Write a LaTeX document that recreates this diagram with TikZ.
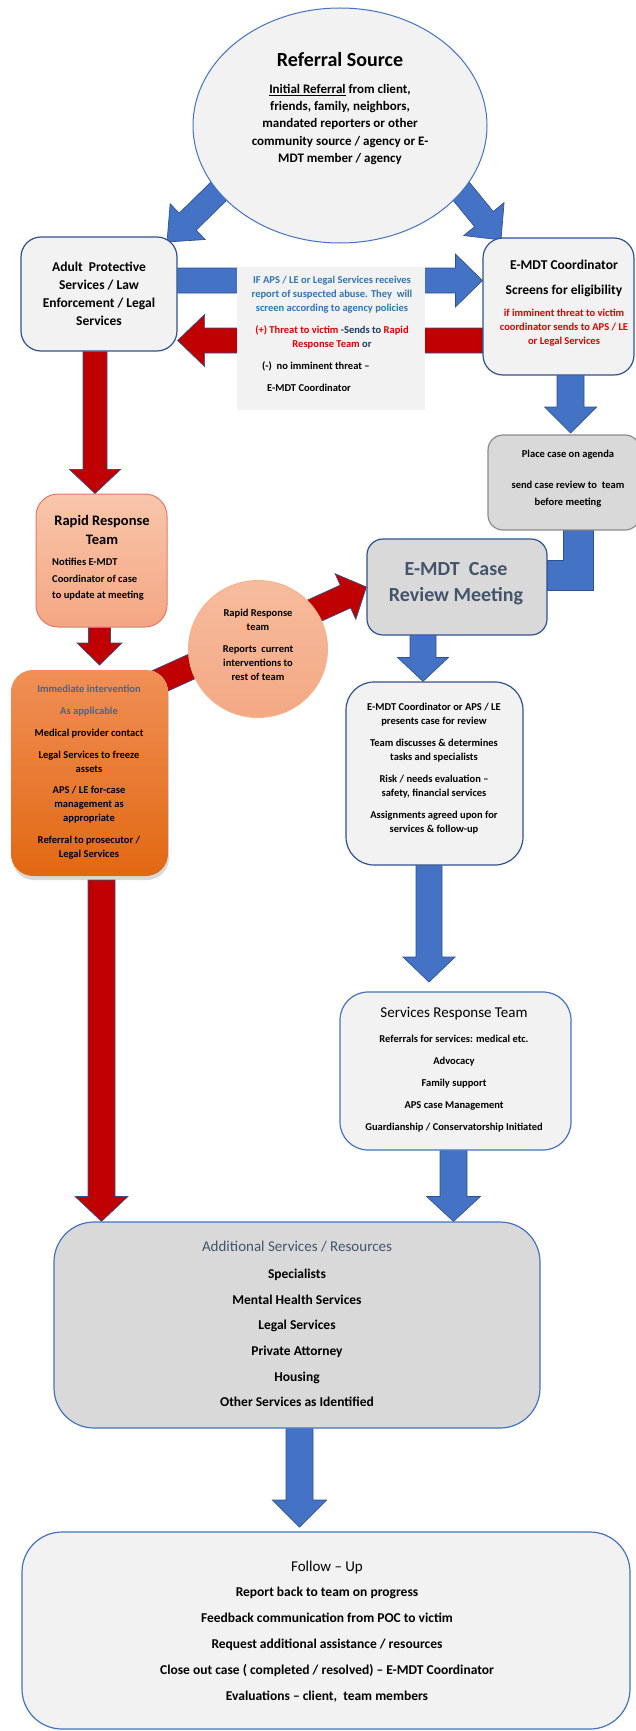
\documentclass[tikz,border=0pt]{standalone}
\usepackage{fontspec}
\setmainfont{Carlito}
\usetikzlibrary{calc,shapes.geometric,shadows}
\pgfdeclarelayer{bg}
\pgfsetlayers{bg,main}
\definecolor{ablue}{HTML}{4472C4}
\definecolor{aline}{HTML}{2F528F}
\definecolor{ared}{HTML}{C00000}
\definecolor{lgray}{HTML}{F2F2F2}
\definecolor{mgray}{HTML}{D9D9D9}
\definecolor{bgray}{HTML}{8C8C8C}
\definecolor{slate}{HTML}{44546A}
\definecolor{ogray}{HTML}{4E6284}
\definecolor{tblue}{HTML}{2E75B6}
\definecolor{tred}{HTML}{E00000}
\definecolor{navy}{HTML}{1F3864}
\definecolor{rrtop}{HTML}{F8C6AA}
\definecolor{rrbot}{HTML}{F4A683}
\definecolor{rrline}{HTML}{E8776A}
\definecolor{rctop}{HTML}{F6BC9E}
\definecolor{rcbot}{HTML}{F4A884}
\definecolor{rcline}{HTML}{F6B38C}
\definecolor{ortop}{HTML}{F08F56}
\definecolor{ormid}{HTML}{F47B2B}
\definecolor{orbot}{HTML}{E26812}
\newcommand\setfs[2]{\fontsize{#1pt}{#2pt}\selectfont}
% #1 style, #2 tail, #3 tip, #4 half body, #5 half head, #6 head length
\newcommand\blockarrow[6]{%
  \coordinate (hb) at ($(#3)!#6!(#2)$);
  \path[#1] ($(#2)!#4!90:(#3)$) -- ($(hb)!#4!-90:(#2)$) -- ($(hb)!#5!-90:(#2)$) -- (#3)
    -- ($(hb)!#5!90:(#2)$) -- ($(hb)!#4!90:(#2)$) -- ($(#2)!#4!-90:(#3)$) -- cycle;}
\tikzset{
  box/.style={draw=aline, line width=1.2pt, fill=lgray, inner sep=0pt, rounded corners=20pt},
  txt/.style={align=center, inner sep=0pt},
  sm/.style={font=\bfseries\setfs{10.5}{14}},
  bluearrow/.style={fill=ablue, draw=aline, line width=0.7pt},
  redarrow/.style={fill=ared, draw=aline, line width=0.7pt}
}
\begin{document}
\begin{tikzpicture}[x=1pt,y=-1pt]
\useasboundingbox (0,0) rectangle (636,1731);

% ---------- shapes ----------
\node[ellipse, draw=ablue, line width=1pt, fill=lgray, minimum width=294pt, minimum height=235pt, inner sep=0pt] (ref) at (340,125.5) {};
\node[box, minimum width=156pt, minimum height=114pt] (aps) at (99,294) {};
\node[box, minimum width=151pt, minimum height=137pt] (coord) at (558.5,306.5) {};
\node[fill=lgray, inner sep=0pt, minimum width=188pt, minimum height=143pt] (mid) at (331,338.5) {};
\node[box, draw=bgray, fill=mgray, rounded corners=15pt, minimum width=152pt, minimum height=95pt] (place) at (564,482.5) {};
\node[box, draw=rrline, line width=1pt, top color=rrtop, bottom color=rrbot, rounded corners=22pt, minimum width=131pt, minimum height=133pt] (rrt) at (101.5,560.5) {};
\node[box, fill=mgray, rounded corners=16pt, minimum width=180pt, minimum height=96pt] (crm) at (457,587) {};
\node[ellipse, draw=rcline, line width=1pt, top color=rctop, bottom color=rcbot, minimum width=139pt, minimum height=137pt, inner sep=0pt] (rrc) at (258,649) {};
\node[box, draw=none, top color=ortop, middle color=ormid, bottom color=orbot, rounded corners=22pt, minimum width=157pt, minimum height=206pt, drop shadow={opacity=0.3, shadow xshift=1pt, shadow yshift=-4pt}] (orange) at (89.5,773) {};
\node[box, rounded corners=28pt, minimum width=177pt, minimum height=183pt] (det) at (434.5,773.5) {};
\node[box, draw=ablue, rounded corners=28pt, minimum width=231pt, minimum height=158pt] (srt) at (455.5,1071) {};
\node[box, draw=ablue, fill=mgray, rounded corners=40pt, minimum width=486pt, minimum height=206pt] (add) at (297,1325) {};
\node[box, draw=ablue, rounded corners=40pt, minimum width=608pt, minimum height=197pt] (fol) at (326,1630.5) {};

% ---------- arrows (behind) ----------
\begin{pgfonlayer}{bg}
\coordinate (d1s) at (225,185); \coordinate (d1e) at (167,242);
\blockarrow{bluearrow}{d1s}{d1e}{12pt}{25pt}{29pt}
\coordinate (d2s) at (452,180); \coordinate (d2e) at (501,240);
\blockarrow{bluearrow}{d2s}{d2e}{12pt}{26pt}{27pt}
\coordinate (h1s) at (aps.east |- 0,280.5); \coordinate (h1e) at (coord.west |- 0,280.5);
\blockarrow{bluearrow}{h1s}{h1e}{12.5pt}{26.5pt}{27pt}
\coordinate (h2s) at (coord.west |- 0,340.5); \coordinate (h2e) at (aps.east |- 0,340.5);
\blockarrow{redarrow}{h2s}{h2e}{12.5pt}{26pt}{27pt}
\coordinate (v1s) at (95,0 |- aps.south); \coordinate (v1e) at (95,0 |- rrt.north);
\blockarrow{redarrow}{v1s}{v1e}{12pt}{25.5pt}{24pt}
\coordinate (v2s) at (99.5,0 |- rrt.south); \coordinate (v2e) at (99.5,665);
\blockarrow{redarrow}{v2s}{v2e}{11pt}{22.5pt}{22pt}
\coordinate (dgs) at (140,690);
\blockarrow{redarrow}{dgs}{crm.west}{12.5pt}{25pt}{23pt}
\coordinate (v3s) at (101.5,880); \coordinate (v3e) at (101.5,0 |- add.north);
\blockarrow{redarrow}{v3s}{v3e}{13.5pt}{26.5pt}{25pt}
\coordinate (v4s) at (570.5,0 |- coord.south); \coordinate (v4e) at (570.5,433);
\blockarrow{bluearrow}{v4s}{v4e}{13.5pt}{26pt}{26pt}
\path[bluearrow] (563,0 |- place.south) -- (593,0 |- place.south) -- (593,590) -- (crm.east |- 0,590) -- (crm.east |- 0,560) -- (563,560) -- cycle;
\coordinate (v5s) at (423,0 |- crm.south); \coordinate (v5e) at (423,0 |- det.north);
\blockarrow{bluearrow}{v5s}{v5e}{13pt}{25.5pt}{24pt}
\coordinate (v6s) at (429,0 |- det.south); \coordinate (v6e) at (429,982);
\blockarrow{bluearrow}{v6s}{v6e}{13pt}{26pt}{25pt}
\coordinate (v7s) at (453.5,0 |- srt.south); \coordinate (v7e) at (453.5,0 |- add.north);
\blockarrow{bluearrow}{v7s}{v7e}{13.5pt}{27pt}{25pt}
\coordinate (v8s) at (299.5,0 |- add.south); \coordinate (v8e) at (299.5,1527);
\blockarrow{bluearrow}{v8s}{v8e}{13.5pt}{27pt}{27pt}
\end{pgfonlayer}

% ---------- texts ----------
\node[txt, font=\bfseries\setfs{20}{24}] (refT) at (340,60) {Referral Source};
\node[txt, font=\bfseries\setfs{13}{17.3}] (refB) at (340,124.5) {\underline{Initial Referral} from client,\\ friends, family, neighbors,\\ mandated reporters or other\\ community source / agency or E-\\ MDT member / agency};

\node[txt, font=\bfseries\setfs{13.5}{18}] (apsT) at (99,294) {Adult~ Protective\\ Services / Law\\ Enforcement / Legal\\ Services};

\node[txt, font=\bfseries\setfs{13.5}{25}] (coT) at (564,278.5) {E-MDT Coordinator\\ Screens for eligibility};
\node[txt, sm, text=tred] (coR) at (564,328) {if imminent threat to victim\\ coordinator sends to APS / LE\\ or Legal Services};

\node[txt, sm, text=tblue] (midB) at (332,295) {IF APS / LE or Legal Services receives\\ report of suspected abuse. They~ will\\ screen according to agency policies};
\node[txt, sm, text=navy] (midR) at (332,337) {\textcolor{tred}{(+) Threat to victim} -Sends to \textcolor{tred}{Rapid}\\ \textcolor{tred}{Response Team} or};
\node[txt, sm, anchor=west] (midN) at (262,366) {(-)~ no imminent threat --};
\node[txt, sm, anchor=west] (midC) at (267,388) {E-MDT Coordinator};

\node[txt, sm] (plT) at (568,455) {Place case on agenda};
\node[txt, font=\bfseries\setfs{10.5}{17}] (plB) at (568,494.5) {send case review to~ team\\ before meeting};

\node[txt, font=\bfseries\setfs{14.5}{19}] (rrtT) at (102,529.5) {Rapid Response\\ Team};
\node[txt, align=left, anchor=west, font=\bfseries\setfs{10.5}{16.5}] (rrtB) at (52,579.5) {Notifies E-MDT\\ Coordinator of case\\ to update at meeting};

\node[txt, text=slate, font=\bfseries\setfs{20}{26}] (crmT) at (456,584) {E-MDT~ Case\\ Review Meeting};

\node[txt, sm] (rrcT) at (258,620) {Rapid Response\\ team};
\node[txt, sm] (rrcB) at (258,663) {Reports~ current\\ interventions to\\ rest of team};

\node[txt, sm] (orT) at (89,772.5) {\textcolor{ogray}{Immediate intervention}\\[8pt] \textcolor{ogray}{As applicable}\\[8pt] Medical provider contact\\[8pt] Legal Services to freeze\\ assets\\[7pt] APS / LE for-case\\ management as\\ appropriate\\[8pt] Referral to prosecutor /\\ Legal Services};

\node[txt, sm] (detT) at (434,769) {E-MDT Coordinator or APS / LE\\ presents case for review\\[8pt] Team discusses \& determines\\ tasks and specialists\\[8pt] Risk / needs evaluation --\\ safety, financial services\\[8pt] Assignments agreed upon for\\ services \& follow-up};

\node[txt, font=\setfs{15}{18}] (srtT) at (454,1014) {Services Response Team};
\node[txt, font=\bfseries\setfs{10.5}{22}] (srtB) at (454,1083.5) {Referrals for services: medical etc.\\ Advocacy\\ Family support\\ APS case Management\\ Guardianship / Conservatorship Initiated};

\node[txt, text=slate, font=\setfs{15}{18}] (addT) at (297,1247) {Additional Services / Resources};
\node[txt, font=\bfseries\setfs{13.5}{25.6}] (addB) at (297,1338) {Specialists\\ Mental Health Services\\ Legal Services\\ Private Attorney\\ Housing\\ Other Services as Identified};

\node[txt, font=\setfs{15}{18}] (folT) at (327,1567) {Follow -- Up};
\node[txt, font=\bfseries\setfs{13.5}{26}] (folB) at (327,1645) {Report back to team on progress\\ Feedback communication from POC to victim\\ Request additional assistance / resources\\ Close out case ( completed / resolved) -- E-MDT Coordinator\\ Evaluations -- client,~ team members};
\end{tikzpicture}
\end{document}
